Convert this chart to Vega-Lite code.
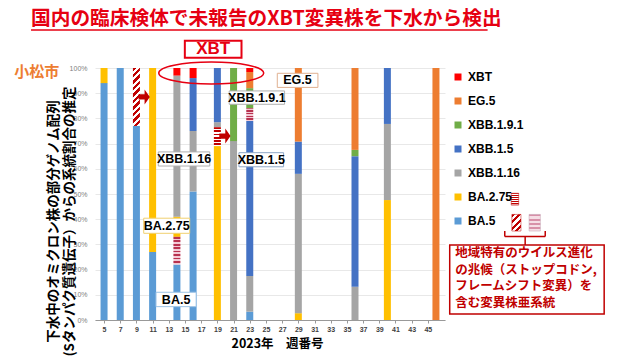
{
 "$schema": "https://vega.github.io/schema/vega-lite/v6.json",
 "width": 350,
 "height": 252,
 "autosize": {"type": "none"},
 "padding": {"left": 95, "top": 68, "right": 179, "bottom": 36},
 "background": "white",
 "config": {"view": {"stroke": null}, "font": "Liberation Sans", "axis": {"labelOverlap": false}},
 "datasets": {
  "bars": [
   {"week": 5, "lineage": "BA.5", "pct": 94},
   {"week": 5, "lineage": "BA.2.75", "pct": 6},
   {"week": 7, "lineage": "BA.5", "pct": 100},
   {"week": 9, "lineage": "BA.5", "pct": 77},
   {"week": 9, "lineage": "BA.5 亜系統A", "pct": 23},
   {"week": 11, "lineage": "BA.5", "pct": 27},
   {"week": 11, "lineage": "BA.2.75", "pct": 73},
   {"week": 14, "lineage": "BA.5", "pct": 22},
   {"week": 14, "lineage": "BA.5 亜系統B", "pct": 11},
   {"week": 14, "lineage": "BA.2.75", "pct": 8},
   {"week": 14, "lineage": "XBB.1.16", "pct": 56},
   {"week": 14, "lineage": "XBT", "pct": 3},
   {"week": 16, "lineage": "BA.5", "pct": 51},
   {"week": 16, "lineage": "XBB.1.16", "pct": 24},
   {"week": 16, "lineage": "XBB.1.5", "pct": 21},
   {"week": 16, "lineage": "XBT", "pct": 4},
   {"week": 19, "lineage": "BA.2.75", "pct": 69},
   {"week": 19, "lineage": "BA.2.75 亜系統", "pct": 7.5},
   {"week": 19, "lineage": "XBB.1.16", "pct": 2},
   {"week": 19, "lineage": "XBB.1.5", "pct": 21.5},
   {"week": 21, "lineage": "XBB.1.16", "pct": 71},
   {"week": 21, "lineage": "XBB.1.9.1", "pct": 29},
   {"week": 23, "lineage": "BA.5", "pct": 3.3},
   {"week": 23, "lineage": "XBB.1.16", "pct": 14.2},
   {"week": 23, "lineage": "XBB.1.5", "pct": 61.5},
   {"week": 23, "lineage": "XBB.1.5 亜系統", "pct": 5},
   {"week": 23, "lineage": "XBB.1.9.1", "pct": 8},
   {"week": 23, "lineage": "EG.5", "pct": 6.4},
   {"week": 23, "lineage": "XBT", "pct": 1.6},
   {"week": 29, "lineage": "BA.2.75", "pct": 2.7},
   {"week": 29, "lineage": "XBB.1.16", "pct": 55.3},
   {"week": 29, "lineage": "XBB.1.5", "pct": 12.8},
   {"week": 29, "lineage": "EG.5", "pct": 29.2},
   {"week": 36, "lineage": "XBB.1.16", "pct": 13.2},
   {"week": 36, "lineage": "XBB.1.5", "pct": 51.8},
   {"week": 36, "lineage": "XBB.1.9.1", "pct": 2.5},
   {"week": 36, "lineage": "EG.5", "pct": 32.5},
   {"week": 40, "lineage": "BA.2.75", "pct": 47.6},
   {"week": 40, "lineage": "XBB.1.16", "pct": 30.2},
   {"week": 40, "lineage": "XBB.1.5", "pct": 22.2},
   {"week": 46, "lineage": "EG.5", "pct": 100}
  ]
 },
 "layer": [
  {
   "data": {"name": "bars"},
   "transform": [{"stack": "pct", "groupby": ["week"], "offset": "normalize", "as": ["y0", "y1"]}],
   "layer": [
    {
     "transform": [{"filter": {"field": "lineage", "oneOf": ["XBT", "EG.5", "XBB.1.9.1", "XBB.1.5", "XBB.1.16", "BA.2.75", "BA.5"]}}],
     "mark": {"type": "bar", "width": 7},
     "encoding": {
      "x": {"field": "week", "type": "quantitative", "scale": {"domain": [4.5, 46.5], "nice": false, "zero": false},
       "axis": {"values": [5, 7, 9, 11, 13, 15, 17, 19, 21, 23, 25, 27, 29, 31, 33, 35, 37, 39, 41, 43, 45], "tickCount": 100, "format": "d", "grid": false,
        "labelOverlap": false,
        "title": "2023年　週番号", "titleFont": "Noto Sans CJK JP", "titleFontWeight": "bold", "titleFontSize": 12.5, "titleColor": "#000000",
        "titleX": 182, "titleY": 23, "titleAlign": "center", "titleBaseline": "middle",
        "labelFont": "Liberation Sans", "labelFontSize": 7, "labelFontWeight": "bold", "labelColor": "#404040", "labelPadding": 2,
        "tickSize": 3, "tickColor": "#999999", "domainColor": "#999999", "labelFlush": false}},
      "y": {"field": "y0", "type": "quantitative", "scale": {"domain": [0, 1], "nice": false},
       "axis": {"values": [0, 0.1, 0.2, 0.3, 0.4, 0.5, 0.6, 0.7, 0.8, 0.9, 1], "tickCount": 100, "format": ".0%", "labelFontSize": 7, "labelColor": "#808080",
        "labelOverlap": false,
        "ticks": false, "domain": false, "labelPadding": 8, "gridColor": "#e8e8e8",
        "title": ["下水中のオミクロン株の部分ゲノム配列", "(Sタンパク質遺伝子）からの系統割合の推定"],
        "titleFont": "Noto Sans CJK JP", "titleFontSize": 13.5, "titleFontWeight": "bold", "titleColor": "#000000",
        "titleAngle": 270, "titleX": -41.5, "titleY": 153, "titleAlign": "center", "titleBaseline": "middle", "titleLineHeight": 16}},
      "y2": {"field": "y1"},
      "color": {"field": "lineage", "type": "nominal",
       "scale": {"domain": ["XBT", "EG.5", "XBB.1.9.1", "XBB.1.5", "XBB.1.16", "BA.2.75", "BA.5"],
        "range": ["#ff0000", "#ed7d31", "#70ad47", "#4472c4", "#a5a5a5", "#ffc000", "#5b9bd5"]},
       "legend": {"title": null, "orient": "none", "legendX": 357, "legendY": 3, "symbolType": "square", "symbolSize": 49, "symbolStrokeWidth": 0,
        "labelFont": "Liberation Sans", "labelFontWeight": "bold", "labelFontSize": 12, "labelColor": "#000000", "labelOffset": 4, "rowPadding": 12, "padding": 0}}
     }
    },
    {
     "transform": [{"filter": {"field": "lineage", "equal": "BA.5 亜系統A"}}],
     "mark": {"type": "bar", "width": 7, "fill": {"gradient": "linear", "x1": 0, "y1": 0, "x2": 0.1333, "y2": 1.105, "stops": [
      {"offset": 0, "color": "#c00000"}, {"offset": 0.05, "color": "#c00000"}, {"offset": 0.05, "color": "#ffffff"}, {"offset": 0.1, "color": "#ffffff"},
      {"offset": 0.1, "color": "#c00000"}, {"offset": 0.15, "color": "#c00000"}, {"offset": 0.15, "color": "#ffffff"}, {"offset": 0.2, "color": "#ffffff"},
      {"offset": 0.2, "color": "#c00000"}, {"offset": 0.25, "color": "#c00000"}, {"offset": 0.25, "color": "#ffffff"}, {"offset": 0.3, "color": "#ffffff"},
      {"offset": 0.3, "color": "#c00000"}, {"offset": 0.35, "color": "#c00000"}, {"offset": 0.35, "color": "#ffffff"}, {"offset": 0.4, "color": "#ffffff"},
      {"offset": 0.4, "color": "#c00000"}, {"offset": 0.45, "color": "#c00000"}, {"offset": 0.45, "color": "#ffffff"}, {"offset": 0.5, "color": "#ffffff"},
      {"offset": 0.5, "color": "#c00000"}, {"offset": 0.55, "color": "#c00000"}, {"offset": 0.55, "color": "#ffffff"}, {"offset": 0.6, "color": "#ffffff"},
      {"offset": 0.6, "color": "#c00000"}, {"offset": 0.65, "color": "#c00000"}, {"offset": 0.65, "color": "#ffffff"}, {"offset": 0.7, "color": "#ffffff"},
      {"offset": 0.7, "color": "#c00000"}, {"offset": 0.75, "color": "#c00000"}, {"offset": 0.75, "color": "#ffffff"}, {"offset": 0.8, "color": "#ffffff"},
      {"offset": 0.8, "color": "#c00000"}, {"offset": 0.85, "color": "#c00000"}, {"offset": 0.85, "color": "#ffffff"}, {"offset": 0.9, "color": "#ffffff"},
      {"offset": 0.9, "color": "#c00000"}, {"offset": 0.95, "color": "#c00000"}, {"offset": 0.95, "color": "#ffffff"}, {"offset": 1, "color": "#ffffff"}]}},
     "encoding": {"x": {"field": "week", "type": "quantitative"}, "y": {"field": "y0", "type": "quantitative"}, "y2": {"field": "y1"}}
    },
    {
     "transform": [{"filter": {"field": "lineage", "oneOf": ["BA.5 亜系統B", "XBB.1.5 亜系統"]}}],
     "mark": {"type": "bar", "width": 7, "fill": {"gradient": "linear", "x1": 0, "y1": 0, "x2": 0, "y2": 1, "stops": [
      {"offset": 0, "color": "#b8324f"}, {"offset": 0.0625, "color": "#b8324f"}, {"offset": 0.0625, "color": "#f2c9d5"}, {"offset": 0.125, "color": "#f2c9d5"},
      {"offset": 0.125, "color": "#b8324f"}, {"offset": 0.1875, "color": "#b8324f"}, {"offset": 0.1875, "color": "#f2c9d5"}, {"offset": 0.25, "color": "#f2c9d5"},
      {"offset": 0.25, "color": "#b8324f"}, {"offset": 0.3125, "color": "#b8324f"}, {"offset": 0.3125, "color": "#f2c9d5"}, {"offset": 0.375, "color": "#f2c9d5"},
      {"offset": 0.375, "color": "#b8324f"}, {"offset": 0.4375, "color": "#b8324f"}, {"offset": 0.4375, "color": "#f2c9d5"}, {"offset": 0.5, "color": "#f2c9d5"},
      {"offset": 0.5, "color": "#b8324f"}, {"offset": 0.5625, "color": "#b8324f"}, {"offset": 0.5625, "color": "#f2c9d5"}, {"offset": 0.625, "color": "#f2c9d5"},
      {"offset": 0.625, "color": "#b8324f"}, {"offset": 0.6875, "color": "#b8324f"}, {"offset": 0.6875, "color": "#f2c9d5"}, {"offset": 0.75, "color": "#f2c9d5"},
      {"offset": 0.75, "color": "#b8324f"}, {"offset": 0.8125, "color": "#b8324f"}, {"offset": 0.8125, "color": "#f2c9d5"}, {"offset": 0.875, "color": "#f2c9d5"},
      {"offset": 0.875, "color": "#b8324f"}, {"offset": 0.9375, "color": "#b8324f"}, {"offset": 0.9375, "color": "#f2c9d5"}, {"offset": 1, "color": "#f2c9d5"}]}},
     "encoding": {"x": {"field": "week", "type": "quantitative"}, "y": {"field": "y0", "type": "quantitative"}, "y2": {"field": "y1"}}
    },
    {
     "transform": [{"filter": {"field": "lineage", "equal": "BA.2.75 亜系統"}}],
     "mark": {"type": "bar", "width": 7, "fill": {"gradient": "linear", "x1": 0, "y1": 0, "x2": 0, "y2": 1, "stops": [
      {"offset": 0, "color": "#c00000"}, {"offset": 0.1, "color": "#c00000"}, {"offset": 0.1, "color": "#ffffff"}, {"offset": 0.1667, "color": "#ffffff"},
      {"offset": 0.1667, "color": "#c00000"}, {"offset": 0.2667, "color": "#c00000"}, {"offset": 0.2667, "color": "#ffffff"}, {"offset": 0.3333, "color": "#ffffff"},
      {"offset": 0.3333, "color": "#c00000"}, {"offset": 0.4333, "color": "#c00000"}, {"offset": 0.4333, "color": "#ffffff"}, {"offset": 0.5, "color": "#ffffff"},
      {"offset": 0.5, "color": "#c00000"}, {"offset": 0.6, "color": "#c00000"}, {"offset": 0.6, "color": "#ffffff"}, {"offset": 0.6667, "color": "#ffffff"},
      {"offset": 0.6667, "color": "#c00000"}, {"offset": 0.7667, "color": "#c00000"}, {"offset": 0.7667, "color": "#ffffff"}, {"offset": 0.8333, "color": "#ffffff"},
      {"offset": 0.8333, "color": "#c00000"}, {"offset": 0.9333, "color": "#c00000"}, {"offset": 0.9333, "color": "#ffffff"}, {"offset": 1, "color": "#ffffff"}]}},
     "encoding": {"x": {"field": "week", "type": "quantitative"}, "y": {"field": "y0", "type": "quantitative"}, "y2": {"field": "y1"}}
    }
   ]
  },
  {"data": {"values": [{}]}, "mark": {"type": "point", "shape": "M -1 0 A 1 0.21 0 1 0 1 0 A 1 0.21 0 1 0 -1 0 Z", "size": 11025, "filled": false, "stroke": "#e60012", "strokeWidth": 1.5, "opacity": 1},
   "encoding": {"x": {"datum": 18.24, "type": "quantitative"}, "y": {"datum": 0.98, "type": "quantitative"}}},
  {"data": {"values": [{}]}, "mark": {"type": "rect", "fill": "#ffffff", "stroke": "#e60012", "strokeWidth": 2},
   "encoding": {"x": {"datum": 14.98, "type": "quantitative"}, "x2": {"datum": 21.98}, "y": {"datum": 1.108, "type": "quantitative"}, "y2": {"datum": 1.041}}},
  {"data": {"values": [{}]}, "mark": {"type": "text", "text": "XBT", "font": "Liberation Sans", "fontWeight": "bold", "fontSize": 17, "color": "#e60012"},
   "encoding": {"x": {"datum": 18.48, "type": "quantitative"}, "y": {"datum": 1.075, "type": "quantitative"}}},
  {"data": {"values": [{}]}, "mark": {"type": "point", "shape": "M -0.75 -0.35 L 0.05 -0.35 L 0.05 -1 L 0.75 0 L 0.05 1 L 0.05 0.35 L -0.75 0.35 Z", "size": 225, "filled": true, "fill": "#c00000", "strokeWidth": 0, "opacity": 1},
   "encoding": {"x": {"datum": 9.96, "type": "quantitative"}, "y": {"datum": 0.885, "type": "quantitative"}}},
  {"data": {"values": [{}]}, "mark": {"type": "point", "shape": "M -0.75 -0.35 L 0.05 -0.35 L 0.05 -1 L 0.75 0 L 0.05 1 L 0.05 0.35 L -0.75 0.35 Z", "size": 225, "filled": true, "fill": "#c00000", "strokeWidth": 0, "opacity": 1},
   "encoding": {"x": {"datum": 19.93, "type": "quantitative"}, "y": {"datum": 0.73, "type": "quantitative"}}},
  {"data": {"values": [{}]}, "mark": {"type": "rect", "fill": "#ffffff", "stroke": "#e0b090", "strokeWidth": 1},
   "encoding": {"x": {"datum": 26.4, "type": "quantitative"}, "x2": {"datum": 31.42}, "y": {"datum": 0.979, "type": "quantitative"}, "y2": {"datum": 0.923}}},
  {"data": {"values": [{}]}, "mark": {"type": "text", "text": "EG.5", "font": "Liberation Sans", "fontWeight": "bold", "fontSize": 12.5, "color": "#000000"},
   "encoding": {"x": {"datum": 28.9, "type": "quantitative"}, "y": {"datum": 0.951, "type": "quantitative"}}},
  {"data": {"values": [{}]}, "mark": {"type": "rect", "fill": "#ffffff", "stroke": "#b0b0b0", "strokeWidth": 1},
   "encoding": {"x": {"datum": 20.46, "type": "quantitative"}, "x2": {"datum": 27.3}, "y": {"datum": 0.909, "type": "quantitative"}, "y2": {"datum": 0.856}}},
  {"data": {"values": [{}]}, "mark": {"type": "text", "text": "XBB.1.9.1", "font": "Liberation Sans", "fontWeight": "bold", "fontSize": 12.5, "color": "#000000"},
   "encoding": {"x": {"datum": 23.88, "type": "quantitative"}, "y": {"datum": 0.882, "type": "quantitative"}}},
  {"data": {"values": [{}]}, "mark": {"type": "rect", "fill": "#ffffff", "stroke": "#b0b0b0", "strokeWidth": 1},
   "encoding": {"x": {"datum": 11.7, "type": "quantitative"}, "x2": {"datum": 18.06}, "y": {"datum": 0.667, "type": "quantitative"}, "y2": {"datum": 0.611}}},
  {"data": {"values": [{}]}, "mark": {"type": "text", "text": "XBB.1.16", "font": "Liberation Sans", "fontWeight": "bold", "fontSize": 12.5, "color": "#000000"},
   "encoding": {"x": {"datum": 14.88, "type": "quantitative"}, "y": {"datum": 0.639, "type": "quantitative"}}},
  {"data": {"values": [{}]}, "mark": {"type": "rect", "fill": "#ffffff", "stroke": "#8fa8c8", "strokeWidth": 1},
   "encoding": {"x": {"datum": 21.66, "type": "quantitative"}, "x2": {"datum": 27.18}, "y": {"datum": 0.664, "type": "quantitative"}, "y2": {"datum": 0.608}}},
  {"data": {"values": [{}]}, "mark": {"type": "text", "text": "XBB.1.5", "font": "Liberation Sans", "fontWeight": "bold", "fontSize": 12.5, "color": "#000000"},
   "encoding": {"x": {"datum": 24.42, "type": "quantitative"}, "y": {"datum": 0.636, "type": "quantitative"}}},
  {"data": {"values": [{}]}, "mark": {"type": "rect", "fill": "#ffffff", "stroke": "#f0d070", "strokeWidth": 1},
   "encoding": {"x": {"datum": 9.9, "type": "quantitative"}, "x2": {"datum": 15.58}, "y": {"datum": 0.404, "type": "quantitative"}, "y2": {"datum": 0.344}}},
  {"data": {"values": [{}]}, "mark": {"type": "text", "text": "BA.2.75", "font": "Liberation Sans", "fontWeight": "bold", "fontSize": 12.5, "color": "#000000"},
   "encoding": {"x": {"datum": 12.74, "type": "quantitative"}, "y": {"datum": 0.374, "type": "quantitative"}}},
  {"data": {"values": [{}]}, "mark": {"type": "rect", "fill": "#ffffff", "stroke": "#9dc3e6", "strokeWidth": 1},
   "encoding": {"x": {"datum": 11.42, "type": "quantitative"}, "x2": {"datum": 16.38}, "y": {"datum": 0.11, "type": "quantitative"}, "y2": {"datum": 0.053}}},
  {"data": {"values": [{}]}, "mark": {"type": "text", "text": "BA.5", "font": "Liberation Sans", "fontWeight": "bold", "fontSize": 12.5, "color": "#000000"},
   "encoding": {"x": {"datum": 13.9, "type": "quantitative"}, "y": {"datum": 0.081, "type": "quantitative"}}},
  {"data": {"values": [{}]}, "mark": {"type": "text", "text": "小松市", "font": "Noto Sans CJK JP", "fontWeight": "bold", "fontSize": 15, "color": "#ed7d31"},
   "encoding": {"x": {"datum": -3.3, "type": "quantitative"}, "y": {"datum": 0.984, "type": "quantitative"}}},
  {"data": {"values": [{}]}, "mark": {"type": "text", "text": "国内の臨床検体で未報告のXBT変異株を下水から検出", "font": "Noto Sans CJK JP", "fontWeight": "bold", "fontSize": 19.7, "color": "#e60012", "align": "left", "baseline": "middle"},
   "encoding": {"x": {"datum": -4.02, "type": "quantitative"}, "y": {"datum": 1.1944, "type": "quantitative"}}},
  {"data": {"values": [{}]}, "mark": {"type": "rule", "color": "#e60012", "strokeWidth": 1.5},
   "encoding": {"x": {"datum": -4.02, "type": "quantitative"}, "x2": {"datum": 52.38}, "y": {"datum": 1.1508, "type": "quantitative"}}},
  {"data": {"values": [{}]}, "mark": {"type": "rect", "stroke": "#c00000", "strokeWidth": 0.5, "fill": {"gradient": "linear", "x1": 0, "y1": 0, "x2": 0, "y2": 1, "stops": [
      {"offset": 0, "color": "#c00000"}, {"offset": 0.1, "color": "#c00000"}, {"offset": 0.1, "color": "#ffffff"}, {"offset": 0.1667, "color": "#ffffff"},
      {"offset": 0.1667, "color": "#c00000"}, {"offset": 0.2667, "color": "#c00000"}, {"offset": 0.2667, "color": "#ffffff"}, {"offset": 0.3333, "color": "#ffffff"},
      {"offset": 0.3333, "color": "#c00000"}, {"offset": 0.4333, "color": "#c00000"}, {"offset": 0.4333, "color": "#ffffff"}, {"offset": 0.5, "color": "#ffffff"},
      {"offset": 0.5, "color": "#c00000"}, {"offset": 0.6, "color": "#c00000"}, {"offset": 0.6, "color": "#ffffff"}, {"offset": 0.6667, "color": "#ffffff"},
      {"offset": 0.6667, "color": "#c00000"}, {"offset": 0.7667, "color": "#c00000"}, {"offset": 0.7667, "color": "#ffffff"}, {"offset": 0.8333, "color": "#ffffff"},
      {"offset": 0.8333, "color": "#c00000"}, {"offset": 0.9333, "color": "#c00000"}, {"offset": 0.9333, "color": "#ffffff"}, {"offset": 1, "color": "#c00000"}]}},
   "encoding": {"x": {"datum": 55.3, "type": "quantitative"}, "x2": {"datum": 56.22}, "y": {"datum": 0.503, "type": "quantitative"}, "y2": {"datum": 0.456}}},
  {"data": {"values": [{}]}, "mark": {"type": "rect", "stroke": "#c00000", "strokeWidth": 0.5, "fill": {"gradient": "linear", "x1": 0, "y1": 0, "x2": 0.66, "y2": 1.19, "stops": [
      {"offset": 0, "color": "#c00000"}, {"offset": 0.125, "color": "#c00000"}, {"offset": 0.125, "color": "#ffffff"}, {"offset": 0.25, "color": "#ffffff"},
      {"offset": 0.25, "color": "#c00000"}, {"offset": 0.375, "color": "#c00000"}, {"offset": 0.375, "color": "#ffffff"}, {"offset": 0.5, "color": "#ffffff"},
      {"offset": 0.5, "color": "#c00000"}, {"offset": 0.625, "color": "#c00000"}, {"offset": 0.625, "color": "#ffffff"}, {"offset": 0.75, "color": "#ffffff"},
      {"offset": 0.75, "color": "#c00000"}, {"offset": 0.875, "color": "#c00000"}, {"offset": 0.875, "color": "#ffffff"}, {"offset": 1, "color": "#ffffff"}]}},
   "encoding": {"x": {"datum": 55.38, "type": "quantitative"}, "x2": {"datum": 56.5}, "y": {"datum": 0.419, "type": "quantitative"}, "y2": {"datum": 0.353}}},
  {"data": {"values": [{}]}, "mark": {"type": "rect", "stroke": "#c0a0b0", "strokeWidth": 0.5, "fill": {"gradient": "linear", "x1": 0, "y1": 0, "x2": 0, "y2": 1, "stops": [
      {"offset": 0, "color": "#d890a8"}, {"offset": 0.125, "color": "#d890a8"}, {"offset": 0.125, "color": "#f6dde5"}, {"offset": 0.25, "color": "#f6dde5"},
      {"offset": 0.25, "color": "#d890a8"}, {"offset": 0.375, "color": "#d890a8"}, {"offset": 0.375, "color": "#f6dde5"}, {"offset": 0.5, "color": "#f6dde5"},
      {"offset": 0.5, "color": "#d890a8"}, {"offset": 0.625, "color": "#d890a8"}, {"offset": 0.625, "color": "#f6dde5"}, {"offset": 0.75, "color": "#f6dde5"},
      {"offset": 0.75, "color": "#d890a8"}, {"offset": 0.875, "color": "#d890a8"}, {"offset": 0.875, "color": "#f6dde5"}, {"offset": 1, "color": "#f6dde5"}]}},
   "encoding": {"x": {"datum": 57.5, "type": "quantitative"}, "x2": {"datum": 58.9}, "y": {"datum": 0.419, "type": "quantitative"}, "y2": {"datum": 0.353}}},
  {"data": {"values": [{}]}, "mark": {"type": "rule", "color": "#c00000", "strokeWidth": 1.5},
   "encoding": {"x": {"datum": 54.5, "type": "quantitative"}, "x2": {"datum": 59.5}, "y": {"datum": 0.331, "type": "quantitative"}}},
  {"data": {"values": [{}]}, "mark": {"type": "rule", "color": "#c00000", "strokeWidth": 1.5},
   "encoding": {"x": {"datum": 54.5, "type": "quantitative"}, "y": {"datum": 0.353, "type": "quantitative"}, "y2": {"datum": 0.331}}},
  {"data": {"values": [{}]}, "mark": {"type": "rule", "color": "#c00000", "strokeWidth": 1.5},
   "encoding": {"x": {"datum": 59.5, "type": "quantitative"}, "y": {"datum": 0.353, "type": "quantitative"}, "y2": {"datum": 0.331}}},
  {"data": {"values": [{}]}, "mark": {"type": "rule", "color": "#c00000", "strokeWidth": 1.5},
   "encoding": {"x": {"datum": 57.02, "type": "quantitative"}, "y": {"datum": 0.331, "type": "quantitative"}, "y2": {"datum": 0.298}}},
  {"data": {"values": [{}]}, "mark": {"type": "rect", "fill": "#ffffff", "stroke": "#c00000", "strokeWidth": 1.5},
   "encoding": {"x": {"datum": 47.7, "type": "quantitative"}, "x2": {"datum": 66.78}, "y": {"datum": 0.298, "type": "quantitative"}, "y2": {"datum": 0.024}}},
  {"data": {"values": [{}]}, "mark": {"type": "text", "text": ["地域特有のウイルス進化", "の兆候（ストップコドン,", "フレームシフト変異）を", "含む変異株亜系統"], "font": "Noto Sans CJK JP", "fontWeight": "bold", "fontSize": 12.5, "lineHeight": 16.5, "color": "#c00000", "align": "left", "baseline": "top"},
   "encoding": {"x": {"datum": 48.38, "type": "quantitative"}, "y": {"datum": 0.2877, "type": "quantitative"}}}
 ]
}
